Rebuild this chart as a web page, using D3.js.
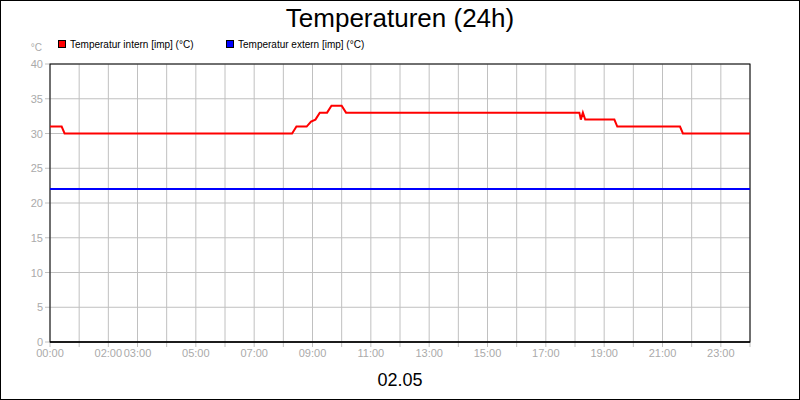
<!DOCTYPE html><html><head><meta charset="utf-8"><script src="https://cdn.jsdelivr.net/npm/d3@7"></script>
<style>body{margin:0}svg{display:block;font-family:"Liberation Sans",Arial,sans-serif}</style></head><body><svg id="c" width="800" height="400"></svg>
<script>
const internHours=[0,0.4,0.5,8.3,8.45,8.8,8.95,9.1,9.25,9.5,9.65,10.0,10.15,18.15,18.2,18.27,18.35,18.45,19.35,19.45,21.6,21.7,24];
const internTemp=[31,31,30,30,31,31,31.7,32,33,33,34,34,33,33,32,33,32,32,32,31,31,30,30];
const externHours=[0,24];
const externTemp=[22,22];
const yTicks=[0,5,10,15,20,25,30,35,40];
const xLabelHours=[0,2,3,5,7,9,11,13,15,17,19,21,23];
const svg=d3.select("#c");
svg.append("rect").attr("x",0.5).attr("y",0.5).attr("width",799).attr("height",399).attr("fill","#fff").attr("stroke","#000");
const x=d3.scaleLinear().domain([0,24]).range([50,750]);
const y=d3.scaleLinear().domain([0,40]).range([342,64]);
const g=svg.append("g");
d3.range(0,25).forEach(h=>{g.append("line").attr("x1",x(h)).attr("x2",x(h)).attr("y1",64).attr("y2",347).attr("stroke","#c0c0c0");});
yTicks.forEach(t=>{g.append("line").attr("x1",45).attr("x2",750).attr("y1",y(t)).attr("y2",y(t)).attr("stroke","#c0c0c0");
 g.append("text").attr("x",43).attr("y",y(t)+4).attr("text-anchor","end").attr("font-size",11).attr("fill","#aaa").text(t);});
xLabelHours.forEach(h=>{g.append("text").attr("x",x(h)).attr("y",357).attr("text-anchor","middle").attr("font-size",11).attr("fill","#aaa").text(String(h).padStart(2,"0")+":00");});
g.append("rect").attr("x",50).attr("y",64).attr("width",700).attr("height",278).attr("fill","none").attr("stroke","#000");
g.append("line").attr("x1",50).attr("x2",750).attr("y1",342).attr("y2",342).attr("stroke","#000").attr("stroke-width",1.5);
const line=d3.line().x(d=>x(d[0])).y(d=>y(d[1]));
g.append("path").datum(internHours.map((h,i)=>[h,internTemp[i]])).attr("d",line).attr("fill","none").attr("stroke","#f00").attr("stroke-width",2);
g.append("path").datum(externHours.map((h,i)=>[h,externTemp[i]])).attr("d",line).attr("fill","none").attr("stroke","#00f").attr("stroke-width",2);
svg.append("text").attr("x",400).attr("y",27).attr("text-anchor","middle").attr("font-size",26).text("Temperaturen (24h)");
svg.append("text").attr("x",400).attr("y",386).attr("text-anchor","middle").attr("font-size",18).text("02.05");
svg.append("text").attr("x",42).attr("y",51).attr("text-anchor","end").attr("font-size",10).attr("fill","#aaa").text("°C");
const leg=[["Temperatur intern [imp] (°C)","#f00",58],["Temperatur extern [imp] (°C)","#00f",226]];
leg.forEach(l=>{svg.append("rect").attr("x",l[2]+0.5).attr("y",40.5).attr("width",7).attr("height",7).attr("fill",l[1]).attr("stroke","#000");
 svg.append("text").attr("x",l[2]+12).attr("y",48).attr("font-size",10).text(l[0]);});
</script></body></html>
